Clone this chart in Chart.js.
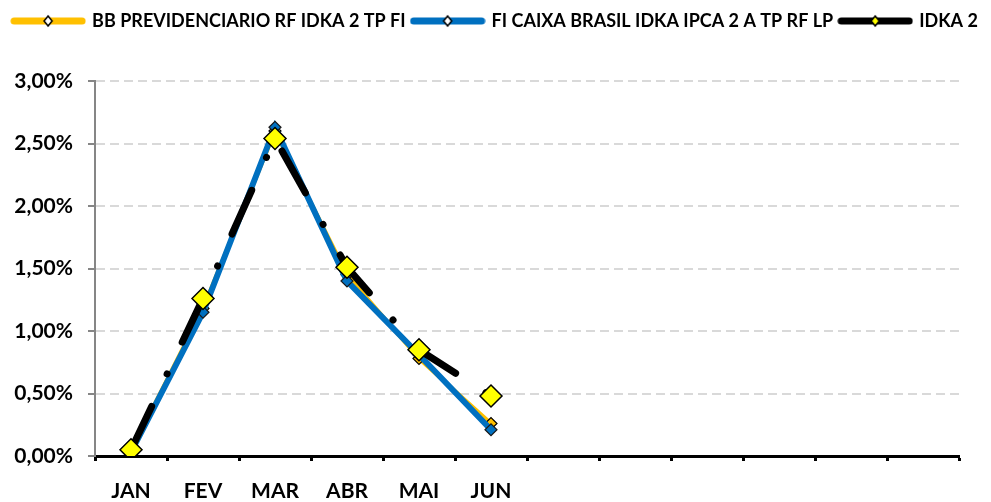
<!DOCTYPE html>
<html>
<head>
<meta charset="utf-8">
<script src="https://cdn.jsdelivr.net/npm/chart.js@4.4.1/dist/chart.umd.min.js"></script>
<style>
  html, body { margin: 0; padding: 0; background: #fff; }
  #wrap { width: 991px; height: 502px; }
</style>
</head>
<body>
<div id="wrap"><canvas id="lineChart"></canvas></div>
<script>
// dados do gráfico
const meses = ['JAN', 'FEV', 'MAR', 'ABR', 'MAI', 'JUN', '', '', '', '', '', ''];
const nomeBB = 'BB PREVIDENCIARIO RF IDKA 2 TP FI';
const nomeCaixa = 'FI CAIXA BRASIL IDKA IPCA 2 A TP RF LP';
const nomeIdka = 'IDKA 2';
const valoresBB = [0.04, 1.18, 2.60, 1.45, 0.78, 0.26];
const valoresCaixa = [0.03, 1.15, 2.63, 1.40, 0.81, 0.21];
const valoresIdka = [0.05, 1.26, 2.54, 1.51, 0.85, 0.48];
const ticksY = [0, 0.5, 1, 1.5, 2, 2.5, 3];

// amostra da legenda: linha + losango
function amostra(cor, corMarca) {
  const c = document.createElement('canvas');
  c.width = 76; c.height = 14;
  const g = c.getContext('2d');
  g.strokeStyle = cor;
  g.lineWidth = 7;
  g.lineCap = 'round';
  g.beginPath(); g.moveTo(4, 7); g.lineTo(72, 7); g.stroke();
  g.fillStyle = corMarca;
  g.strokeStyle = '#000';
  g.lineWidth = 1.5;
  g.beginPath();
  g.moveTo(38, 2); g.lineTo(42, 7); g.lineTo(38, 12); g.lineTo(34, 7);
  g.closePath(); g.fill(); g.stroke();
  return c;
}
const legendas = [
  amostra('#FFC000', '#ffffff'),
  amostra('#0070C0', '#ffffff'),
  amostra('#000000', '#FFFF00')
];

const ctx = document.getElementById('lineChart');

new Chart(ctx, {
  type: 'line',
  data: {
    labels: meses,
    datasets: [{
      label: nomeBB,
      data: valoresBB,
      borderColor: '#FFC000',
      backgroundColor: '#FFC000',
      borderWidth: 4,
      pointStyle: 'rectRot',
      pointRadius: 6,
      pointBorderColor: '#000',
      pointBorderWidth: 1.2,
      order: 3
    }, {
      label: nomeCaixa,
      data: valoresCaixa,
      borderColor: '#0070C0',
      backgroundColor: '#0070C0',
      borderWidth: 6,
      pointStyle: 'rectRot',
      pointRadius: 6,
      pointBorderColor: '#1a1a1a',
      pointBorderWidth: 1.2,
      order: 2
    }, {
      label: nomeIdka,
      data: valoresIdka,
      borderColor: '#000',
      backgroundColor: '#FFFF00',
      borderWidth: 7,
      borderDash: [48, 36, 0.1, 35],
      borderCapStyle: 'round',
      pointStyle: 'rectRot',
      pointRadius: 11,
      pointBorderColor: '#000',
      pointBorderWidth: 1.5,
      order: 1
    }]
  },
  options: {
    responsive: true,
    maintainAspectRatio: false,
    animation: false,
    layout: { padding: { top: 5, right: 0, left: 0, bottom: 0 } },
    elements: { line: { tension: 0 } },
    scales: {
      x: {
        offset: true,
        grid: {
          offset: true,
          drawOnChartArea: false,
          drawTicks: true,
          tickLength: 5,
          tickColor: '#000',
          tickWidth: 3
        },
        border: { display: true, color: '#000', width: 3 },
        ticks: {
          color: '#000',
          padding: 18,
          autoSkip: false,
          maxRotation: 0,
          font: { family: 'Lato', weight: 'bold', size: 21 }
        },
        afterFit: (s) => { s.height = 46; }
      },
      y: {
        min: 0,
        max: 3,
        afterBuildTicks: (s) => { s.ticks = ticksY.map(v => ({ value: v })); },
        grid: {
          color: '#D9D9D9',
          lineWidth: 2,
          drawTicks: true,
          tickLength: 7,
          tickColor: '#868686',
          tickWidth: 2,
          tickBorderDash: []
        },
        border: { display: true, color: '#868686', width: 2, dash: [9, 5] },
        ticks: {
          color: '#000',
          padding: 15,
          font: { family: 'Lato', weight: 'bold', size: 21 },
          callback: (v) => v.toFixed(2).replace('.', ',') + '%'
        },
        afterFit: (s) => { s.width = 95; }
      },
      // eixo vazio só para a margem direita
      margem: {
        position: 'right',
        ticks: { display: false },
        grid: { display: false },
        border: { display: false },
        afterFit: (s) => { s.width = 32; }
      }
    },
    plugins: {
      legend: {
        position: 'top',
        labels: {
          usePointStyle: true,
          pointStyleWidth: 70,
          padding: 7,
          color: '#000',
          font: { family: 'Lato', weight: 'bold', size: 18 },
          sort: (a, b) => a.datasetIndex - b.datasetIndex,
          generateLabels: (chart) => {
            const itens = Chart.defaults.plugins.legend.labels.generateLabels(chart);
            itens.forEach(it => {
              it.pointStyle = legendas[it.datasetIndex];
              it.lineWidth = 0;
            });
            return itens;
          }
        }
      },
      tooltip: { enabled: false }
    }
  },
  plugins: [{
    id: 'espacoLegenda',
    afterInit(chart) {
      const fitOriginal = chart.legend.fit;
      chart.legend.fit = function () {
        fitOriginal.call(this);
        this.height += 41;
      };
    }
  }]
});
</script>
</body>
</html>
